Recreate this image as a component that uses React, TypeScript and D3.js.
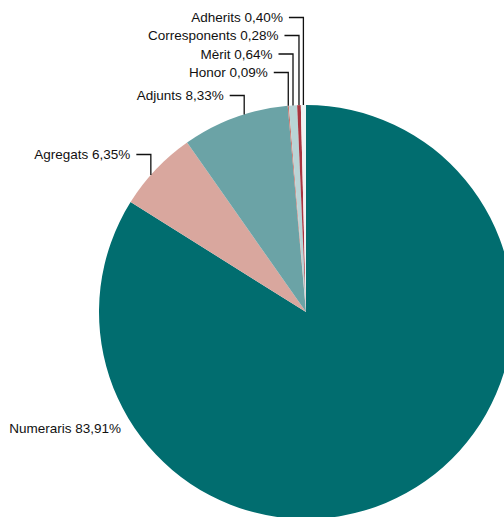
import React from "react";
import * as d3 from "d3";

const categories = ["Numeraris", "Agregats", "Adjunts", "Honor", "Mèrit", "Corresponents", "Adherits"];
const values = [83.91, 6.35, 8.33, 0.09, 0.64, 0.28, 0.4];
const colors = ["#016d6f", "#d9a79e", "#6ba3a6", "#c8736a", "#b9d4d6", "#a8343f", "#eef3f3"];

// label layout: line y, fraction along slice where leader meets the arc (null => free label)
const labelLineY = [null, 154.5, 95.5, 72.5, 54, 35.5, 17.5];
const anchorFrac = [0.5, 0.41, 0.59, 0.5, 0.5, 0.5, 0.5];

const W = 504;
const H = 517;
const cx = 306;
const cy = 312;
const R = 207;

const fmt = (v: number) => v.toFixed(2).replace(".", ",") + "%";

export default function App() {
  const pie = d3.pie<number>().sort(null).value((d) => d)(values);
  const arc = d3.arc<d3.PieArcDatum<number>>().innerRadius(0).outerRadius(R);

  return (
    <svg
      width={W}
      height={H}
      style={{ position: "absolute", left: 0, top: 0, display: "block", overflow: "hidden", background: "#fff" }}
      fontFamily="'Liberation Sans', Arial, sans-serif"
      fontSize={13.5}
    >
      <g transform={`translate(${cx},${cy})`}>
        {pie.map((p, i) => (
          <path key={i} d={arc(p) || ""} fill={colors[i]} />
        ))}
      </g>
      {pie.map((p, i) => {
        const label = `${categories[i]} ${fmt(values[i])}`;
        const ly = labelLineY[i];
        if (ly === null) {
          return (
            <text key={i} x={121} y={428} textAnchor="end" dominantBaseline="central" fill="#111">
              {label}
            </text>
          );
        }
        const a = p.startAngle + (p.endAngle - p.startAngle) * anchorFrac[i];
        const ax = cx + R * Math.sin(a);
        const ay = cy - R * Math.cos(a);
        const hx0 = ax - 14.5;
        return (
          <g key={i}>
            <path d={`M${hx0},${ly}H${ax}V${ay}`} fill="none" stroke="#111" strokeWidth={1.3} />
            <text x={hx0 - 6} y={ly} textAnchor="end" dominantBaseline="central" fill="#111">
              {label}
            </text>
          </g>
        );
      })}
    </svg>
  );
}
